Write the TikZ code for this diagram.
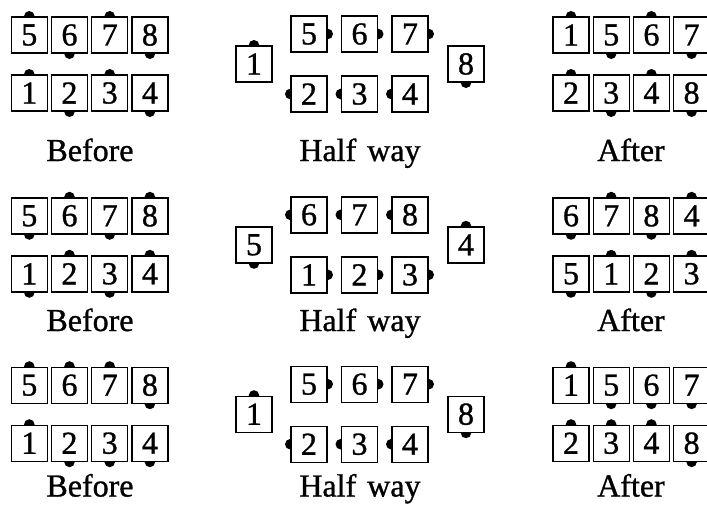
\documentclass[tikz,border=0pt]{standalone}
\usepackage{fontspec}
\setmainfont{Liberation Serif}[BoldFont=Liberation Serif, BoldFeatures={FakeBold=1}]
\usetikzlibrary{backgrounds}
\tikzset{
  bx/.style={draw, line width=1.4pt, fill=white, minimum width=36pt, minimum height=36pt, inner sep=0pt, font=\fontsize{32}{32}\selectfont\bfseries},
  lbl/.style={anchor=base, inner sep=0pt, font=\fontsize{32}{32}\selectfont\bfseries},
  knob/.style={fill=black}
}
% a Before/After pair of rows: #1 prefix, #2 x of first box, #3 middle y, #4 top row, #5 bottom row
\newcommand\pairrows[5]{%
  \foreach[count=\i] \l/\s in {#4}{%
    \node[bx] (#1T\i) at ({#2+40.2*(\i-1)},{#3-29}) {\l};
    \begin{scope}[on background layer]\fill[knob] (#1T\i.\s) circle (5.3pt);\end{scope}}
  \foreach[count=\i] \l/\s in {#5}{%
    \node[bx] (#1B\i) at ({#2+40.2*(\i-1)},{#3+29}) {\l};
    \begin{scope}[on background layer]\fill[knob] (#1B\i.\s) circle (5.3pt);\end{scope}}
}
% a Half way group: #1 prefix, #2 middle y, #3 left box, #4 top row, #5 bottom row, #6 right box
\newcommand\halfway[6]{%
  \foreach \l/\s in {#3}{%
    \node[bx] (#1L) at (254,#2) {\l};
    \begin{scope}[on background layer]\fill[knob] (#1L.\s) circle (5.3pt);\end{scope}}
  \foreach[count=\i] \l/\s in {#4}{%
    \node[bx] (#1T\i) at ({309+50.5*(\i-1)},{#2-30}) {\l};
    \begin{scope}[on background layer]\fill[knob] (#1T\i.\s) circle (5.3pt);\end{scope}}
  \foreach[count=\i] \l/\s in {#5}{%
    \node[bx] (#1B\i) at ({309+50.5*(\i-1)},{#2+30}) {\l};
    \begin{scope}[on background layer]\fill[knob] (#1B\i.\s) circle (5.3pt);\end{scope}}
  \foreach \l/\s in {#6}{%
    \node[bx] (#1R) at (466,#2) {\l};
    \begin{scope}[on background layer]\fill[knob] (#1R.\s) circle (5.3pt);\end{scope}}
}
\begin{document}
\begin{tikzpicture}[x=1pt,y=-1pt]
\useasboundingbox (0,0) rectangle (707,504);
% row 1
\pairrows{ab}{29.3}{64}{5/north,6/south,7/north,8/south}{1/north,2/south,3/north,4/south}
\halfway{ah}{64}{1/north}{5/east,6/east,7/east}{2/west,3/west,4/west}{8/south}
\pairrows{aa}{571}{64}{1/north,5/south,6/north,7/south}{2/north,3/south,4/north,8/south}
\node[lbl] (abl) at (90,161) {Before};
\node[lbl] (ahl) at (360,161) {Half\hspace{3pt} way};
\node[lbl] (aal) at (631,161) {After};
% row 2
\pairrows{bb}{29.3}{244.8}{5/south,6/north,7/south,8/north}{1/south,2/north,3/south,4/north}
\halfway{bh}{244.8}{5/south}{6/west,7/west,8/west}{1/east,2/east,3/east}{4/north}
\pairrows{ba}{571}{244.8}{6/south,7/north,8/south,4/north}{5/south,1/north,2/south,3/north}
\node[lbl] (bbl) at (90,331) {Before};
\node[lbl] (bhl) at (360,331) {Half\hspace{3pt} way};
\node[lbl] (bal) at (631,331) {After};
% row 3
\pairrows{cb}{29.3}{414.2}{5/north,6/north,7/north,8/south}{1/north,2/south,3/south,4/south}
\halfway{ch}{414.2}{1/north}{5/east,6/east,7/east}{2/west,3/west,4/west}{8/south}
\pairrows{ca}{571}{414.2}{1/north,5/south,6/south,7/south}{2/north,3/north,4/north,8/south}
\node[lbl] (cbl) at (90,496.5) {Before};
\node[lbl] (chl) at (360,496.5) {Half\hspace{3pt} way};
\node[lbl] (cal) at (631,496.5) {After};
\end{tikzpicture}
\end{document}
